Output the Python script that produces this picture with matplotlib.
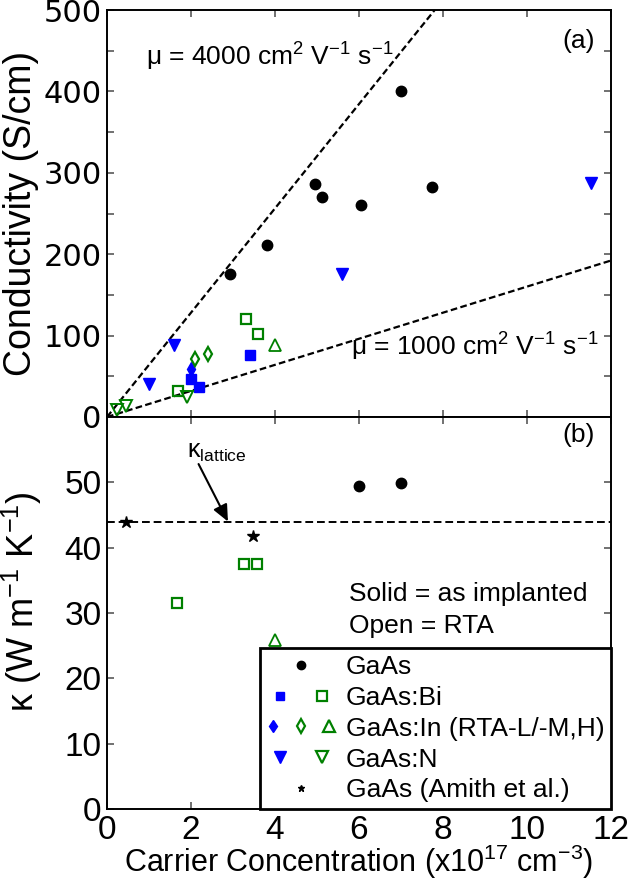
import numpy as np
import matplotlib
matplotlib.use('Agg')
import matplotlib.pyplot as plt
from matplotlib.lines import Line2D
from matplotlib.legend_handler import HandlerTuple

plt.rcParams['font.family'] = ['Liberation Sans', 'DejaVu Sans']
plt.rcParams['mathtext.fontset'] = 'custom'
plt.rcParams['mathtext.rm'] = 'Liberation Sans'
plt.rcParams['mathtext.it'] = 'Liberation Sans:italic'

# (a) conductivity vs carrier concentration (x1e17 cm^-3, S/cm)
gaas_n = [2.93, 3.8, 4.95, 5.13, 6.05, 7.0, 7.73]
gaas_sigma = [176, 211, 286, 270, 260, 400, 282]
bi_solid_n = [2.0, 2.2, 3.4]
bi_solid_sigma = [47, 37, 76]
bi_rta_n = [1.7, 3.3, 3.6]
bi_rta_sigma = [32, 120, 102]
in_solid_n = [2.0]
in_solid_sigma = [59]
in_rtaL_n = [2.1, 2.4]
in_rtaL_sigma = [71, 77]
in_rtaMH_n = [4.0]
in_rtaMH_sigma = [88]
nit_solid_n = [1.0, 1.6, 5.6, 11.52]
nit_solid_sigma = [41, 88, 176, 288]
nit_rta_n = [0.23, 0.45, 1.9]
nit_rta_sigma = [9, 13, 25]
mobilities = [4000, 1000]   # cm^2 V^-1 s^-1

# (b) thermal conductivity (W m^-1 K^-1)
gaas_k_n = [6.0, 7.0]
gaas_k = [49.5, 49.9]
bi_rta_k_n = [1.67, 3.26, 3.56]
bi_rta_k = [31.5, 37.5, 37.5]
in_rtaMH_k_n = [4.0]
in_rtaMH_k = [25.8]
amith_n = [0.45, 3.47]
amith_k = [43.9, 41.8]
kappa_lattice = 44

BLUE = '#0000ff'
GREEN = '#008000'
FS = 19

fig = plt.figure(figsize=(6.34, 8.86), dpi=100)
ax1 = fig.add_axes([107/634, 1-417/886, 504/634, 407/886])
ax2 = fig.add_axes([107/634, 1-809/886, 504/634, 392/886])

q = 1.602e-19
n_line = np.linspace(0, 12, 200)
for mu in mobilities:
    ax1.plot(n_line, q * n_line * 1e17 * mu, ls=(0, (3, 1.5)), color='k', lw=1.6, zorder=1)

ax1.plot(gaas_n, gaas_sigma, 'o', color='k', ms=7.5, ls='none')
ax1.plot(bi_solid_n, bi_solid_sigma, 's', color=BLUE, ms=7.5, ls='none')
ax1.plot(bi_rta_n, bi_rta_sigma, 's', mfc='none', mec=GREEN, mew=1.6, ms=7.5, ls='none')
ax1.plot(in_solid_n, in_solid_sigma, 'd', color=BLUE, ms=7, ls='none')
ax1.plot(in_rtaL_n, in_rtaL_sigma, 'd', mfc='none', mec=GREEN, mew=1.6, ms=7.5, ls='none')
ax1.plot(in_rtaMH_n, in_rtaMH_sigma, '^', mfc='none', mec=GREEN, mew=1.3, ms=8, ls='none')
ax1.plot(nit_solid_n, nit_solid_sigma, 'v', color=BLUE, ms=8.5, ls='none')
ax1.plot(nit_rta_n, nit_rta_sigma, 'v', mfc='none', mec=GREEN, mew=1.4, ms=8.5, ls='none')

ax1.text(0.078, 0.885, 'μ = 4000 cm$^\\mathregular{2}$ V$^\\mathregular{-1}$ s$^\\mathregular{-1}$',
         transform=ax1.transAxes, fontsize=FS, va='center')
ax1.text(0.975, 0.172, 'μ = 1000 cm$^\\mathregular{2}$ V$^\\mathregular{-1}$ s$^\\mathregular{-1}$',
         transform=ax1.transAxes, fontsize=FS, va='center', ha='right')
ax1.text(0.935, 0.925, '(a)', transform=ax1.transAxes, fontsize=FS, ha='center', va='center')

ax1.set_xlim(0, 12)
ax1.set_ylim(0, 500)
ax1.set_yticks(np.arange(0, 501, 50))
ax1.set_yticklabels([str(v) if v % 100 == 0 else '' for v in range(0, 501, 50)],
                    family='DejaVu Sans', fontsize=22)
ax1.set_xticks(np.arange(0, 13, 2))
ax1.tick_params(axis='x', labelbottom=False)
ax1.set_ylabel('Conductivity (S/cm)', fontsize=27)
ax1.yaxis.set_label_coords(-0.135, 0.5)

# (b)
ax2.axhline(kappa_lattice, ls=(0, (4, 2)), color='k', lw=1.4, zorder=1)
ax2.plot(gaas_k_n, gaas_k, 'o', color='k', ms=7.5, ls='none')
ax2.plot(bi_rta_k_n, bi_rta_k, 's', mfc='none', mec=GREEN, mew=1.6, ms=7.5, ls='none')
ax2.plot(in_rtaMH_k_n, in_rtaMH_k, '^', mfc='none', mec=GREEN, mew=1.3, ms=8, ls='none')
ax2.plot(amith_n, amith_k, '*', color='k', ms=9, ls='none')

ax2.text(2.62, 54.6, 'κ$_\\mathregular{lattice}$', fontsize=18, ha='center', va='center')
ax2.annotate('', xy=(2.88, kappa_lattice), xytext=(2.18, 52.8),
             arrowprops=dict(arrowstyle='-|>,head_length=1.0,head_width=0.45', color='k',
                             lw=1.5, shrinkA=0, shrinkB=0))
ax2.text(0.935, 0.955, '(b)', transform=ax2.transAxes, fontsize=FS, ha='center', va='center')
ax2.text(0.48, 0.548, 'Solid = as implanted', transform=ax2.transAxes, fontsize=FS, va='center')
ax2.text(0.48, 0.466, 'Open = RTA', transform=ax2.transAxes, fontsize=FS, va='center')

ax2.set_xlim(0, 12)
ax2.set_ylim(0, 60)
ax2.set_yticks(np.arange(0, 60, 10))
ax2.set_xticks(np.arange(0, 13, 2))
ax2.tick_params(axis='both', labelsize=24)
ax2.set_xlabel('Carrier Concentration (x10$^\\mathregular{17}$ cm$^\\mathregular{-3}$)', fontsize=22, labelpad=-2)
ax2.set_ylabel('κ (W m$^\\mathregular{-1}$ K$^\\mathregular{-1}$)', fontsize=26)
ax2.yaxis.set_label_coords(-0.125, 0.53)

for ax in (ax1, ax2):
    ax.tick_params(direction='in', top=True, right=True, length=5, width=1.2, color='0.35', pad=4)
    for sp in ax.spines.values():
        sp.set_linewidth(1.4)

handles = [
    Line2D([], [], marker='o', color='k', ms=6, ls='none'),
    (Line2D([], [], marker='s', color=BLUE, ms=6, ls='none'),
     Line2D([], [], marker='s', mfc='none', mec=GREEN, mew=1.6, ms=7, ls='none')),
    (Line2D([], [], marker='d', color=BLUE, ms=6, ls='none'),
     Line2D([], [], marker='d', mfc='none', mec=GREEN, mew=1.6, ms=7, ls='none'),
     Line2D([], [], marker='^', mfc='none', mec=GREEN, mew=1.6, ms=8, ls='none')),
    (Line2D([], [], marker='v', color=BLUE, ms=8, ls='none'),
     Line2D([], [], marker='v', mfc='none', mec=GREEN, mew=1.6, ms=8, ls='none')),
    Line2D([], [], marker='*', color='k', ms=5, ls='none'),
]
labels = ['GaAs', 'GaAs:Bi', 'GaAs:In (RTA-L/-M,H)', 'GaAs:N', 'GaAs (Amith et al.)']
leg = ax2.legend(handles, labels, handler_map={tuple: HandlerTuple(ndivide=None, pad=0.6)},
                 loc='lower right', bbox_to_anchor=(1.0, 0.0), fontsize=FS, frameon=True,
                 fancybox=False, edgecolor='k', framealpha=1, borderaxespad=0,
                 handlelength=2.6, handletextpad=0.4, labelspacing=0.26, borderpad=0.25)
leg.get_frame().set_linewidth(2.0)

fig.savefig('out.png', dpi=100)
